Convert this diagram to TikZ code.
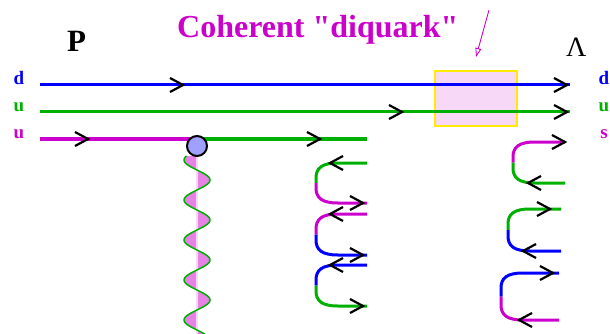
\documentclass[tikz,border=0pt]{standalone}
\usepackage{fontspec}
\setmainfont{Liberation Serif}
\newfontfamily\titlefont{Liberation Serif}[Ligatures=TeXOff]
\usetikzlibrary{arrows.meta}
\definecolor{qblue}{RGB}{0,0,255}
\definecolor{qgreen}{RGB}{0,176,0}
\definecolor{qmag}{RGB}{204,0,204}
\definecolor{boxpink}{RGB}{247,217,247}
\definecolor{wavepink}{RGB}{230,130,230}
\definecolor{axispink}{RGB}{248,215,248}
\definecolor{dotblue}{RGB}{160,160,255}
\definecolor{boxyellow}{RGB}{255,235,0}
\newcommand\chevR[2]{\draw[chev] ({#1-13},{#2-7}) -- (#1,#2) -- ({#1-13},{#2+7});}
\newcommand\chevL[2]{\draw[chev] ({#1+13},{#2-7}) -- (#1,#2) -- ({#1+13},{#2+7});}
\newcommand\qloop[7]{%
  \draw[quark,#5] (#2,#3) -- ({#1+22},#3) .. controls ({#1+6},#3) and (#1,{#3+5}) .. (#1,{#3+15}) -- (#1,{(#3+#4)/2});
  \draw[quark,#6] (#1,{(#3+#4)/2}) -- (#1,{#4-15}) .. controls (#1,{#4-5}) and ({#1+6},#4) .. ({#1+22},#4) -- (#7,#4);}
\begin{document}
\begin{tikzpicture}[x=1pt,y=-1pt,
  quark/.style={line width=3pt},
  chev/.style={black,line width=2.2pt},
  lbl/.style={font=\fontsize{19}{19}\selectfont\bfseries, inner sep=0, anchor=base},
 ]
\useasboundingbox (0,0) rectangle (610,334);
% diquark box
\draw[boxyellow, line width=1.2pt, fill=boxpink] (435,71) rectangle (517,126);
% quark lines
\draw[quark,qblue] (40,85) -- (570,85);
\draw[quark,qgreen] (40,112) -- (570,112);
\draw[quark,qmag] (40,139) -- (197,139);
\draw[quark,qgreen] (197,139) -- (367,139);
% gluon
\fill[wavepink] plot[domain=156:334, samples=200, variable=\t] ({197+13*cos(9*(\t-180))}, \t) -- (197,334) -- (197,156) -- cycle;
\draw[axispink, line width=1.5pt] (197,156) -- (197,334);
\draw[qgreen, line width=1.5pt] plot[domain=156:334, samples=200, variable=\t] ({197+13*cos(9*(\t-180))}, \t);
\node[circle, draw=black, line width=2pt, fill=dotblue, minimum size=20pt, inner sep=0] (vtx) at (197,146) {};
% middle loops
\qloop{316}{367}{163}{203}{qgreen}{qmag}{367}
\qloop{316}{367}{214}{255}{qmag}{qblue}{367}
\qloop{316}{367}{265}{306}{qblue}{qgreen}{367}
% right loops
\qloop{513}{565}{142}{183}{qmag}{qgreen}{565}
\qloop{508}{561}{209}{251}{qgreen}{qblue}{561}
\qloop{501}{559}{273}{320}{qblue}{qmag}{559}
% chevrons
\chevR{183}{85} \chevR{567}{85}
\chevR{402}{112} \chevR{567}{112}
\chevR{88}{139} \chevR{320}{139}
\chevL{330}{163} \chevR{363}{203}
\chevL{330}{214} \chevR{363}{255}
\chevL{330}{265} \chevR{363}{306}
\chevR{565}{142} \chevL{528}{183}
\chevR{550}{209} \chevL{523}{251}
\chevR{553}{273} \chevL{519}{320}
% labels
\node[lbl,text=qblue] (ld) at (19,85) {d};
\node[lbl,text=qgreen] (lu1) at (19,112) {u};
\node[lbl,text=qmag] (lu2) at (19,139) {u};
\node[lbl,text=qblue] (rd) at (604,85) {d};
\node[lbl,text=qgreen] (ru) at (604,112) {u};
\node[lbl,text=qmag] (rs) at (604,139) {s};
\node[font=\fontsize{31}{31}\selectfont\bfseries, inner sep=0, anchor=base west] (P) at (67,52) {P};
\node[font=\fontsize{28}{28}\selectfont, inner sep=0, anchor=base west] (Lam) at (566,57) {Λ};
\node[font=\titlefont\fontsize{32}{32}\selectfont\bfseries, text=qmag, anchor=base west, inner sep=0] (title) at (177,37.5) {Coherent "diquark"};
% pointer
\coordinate (ptrA) at (489,10);
\coordinate (ptrB) at (476,57);
\draw[qmag, line width=0.9pt, -{Triangle[open,length=9pt,width=6pt]}] (ptrA) -- (ptrB);
\end{tikzpicture}
\end{document}
